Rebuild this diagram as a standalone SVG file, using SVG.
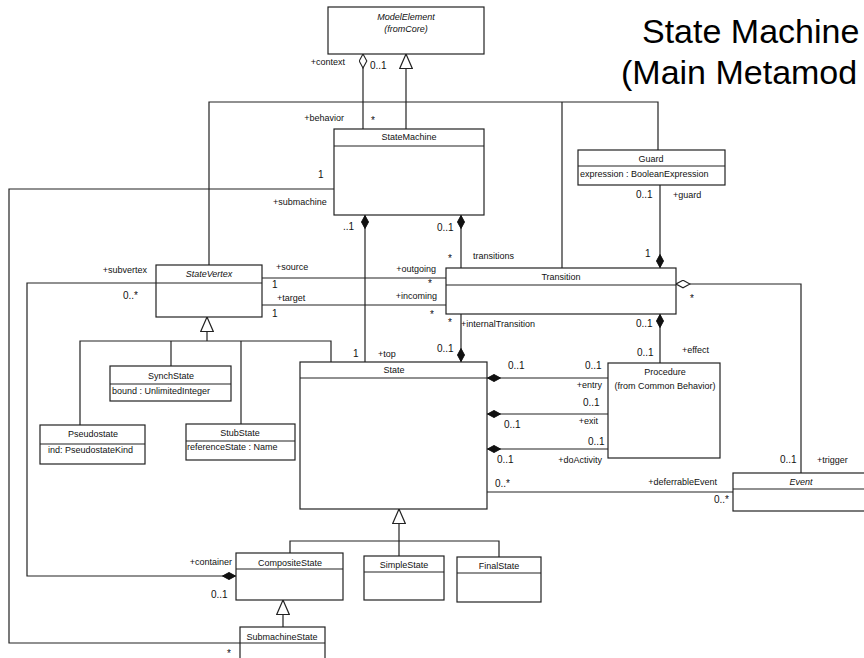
<svg xmlns="http://www.w3.org/2000/svg" width="864" height="658" viewBox="0 0 864 658">
  <style>
    .box { fill: #fff; stroke: #222; stroke-width: 1.2; }
    .sep { stroke: #222; stroke-width: 1.1; fill: none; }
    .ln { fill: none; stroke: #222; stroke-width: 1.2; }
    text { font-family: "Liberation Sans", Arial, sans-serif; fill: #111; }
    .nm { font-size: 9px; text-anchor: middle; }
    .it { font-style: italic; }
    .at { font-size: 9px; }
    .rl { font-size: 9px; }
    .mu { font-size: 10px; }
    .end { text-anchor: end; }
    .title { font-size: 34px; fill: #000; }
  </style>
  <defs>
    <marker id="diaFilled" markerUnits="userSpaceOnUse" viewBox="0 0 14 8" markerWidth="14" markerHeight="8" refX="0" refY="4" orient="auto">
      <path d="M0.5,4 L7,0.5 L13.5,4 L7,7.5 Z" fill="#111" stroke="#111" stroke-width="1"/>
    </marker>
    <marker id="diaHollow" markerUnits="userSpaceOnUse" viewBox="0 0 15 9" markerWidth="15" markerHeight="9" refX="0.5" refY="4.5" orient="auto">
      <path d="M0.5,4.5 L7.5,0.7 L14.5,4.5 L7.5,8.3 Z" fill="#fff" stroke="#222" stroke-width="1.1"/>
    </marker>
    <marker id="triHollow" markerUnits="userSpaceOnUse" viewBox="0 0 16 14" markerWidth="16" markerHeight="14" refX="15" refY="7" orient="auto">
      <path d="M0.5,0.7 L15,7 L0.5,13.3 Z" fill="#fff" stroke="#222" stroke-width="1.2"/>
    </marker>
  </defs>

  <rect width="864" height="658" fill="#fff"/>

  <!-- title -->
  <g id="title">
    <text class="title" x="642" y="43">State Machine</text>
    <text class="title" x="621" y="84">(Main Metamod</text>
  </g>

  <!-- associations, compositions and generalizations -->
  <g id="connectors">
    <!-- ModelElement generalization tree -->
    <path class="ln" d="M406,129 V54" marker-end="url(#triHollow)"/>
    <path class="ln" d="M209,265 V102 H658 V150"/>
    <path class="ln" d="M562,102 V268"/>
    <!-- context / behavior -->
    <path class="ln" d="M363,54 V129" marker-start="url(#diaHollow)"/>
    <text class="rl end" x="345" y="65">+context</text>
    <text class="mu" x="370" y="69">0..1</text>
    <text class="rl end" x="344" y="121">+behavior</text>
    <text class="mu" x="371" y="124">*</text>

    <!-- submachine -->
    <path class="ln" d="M334,189 H9 V643 H240"/>
    <text class="mu" x="318" y="178">1</text>
    <text class="rl" x="273" y="205">+submachine</text>
    <text class="mu" x="227" y="657">*</text>

    <!-- top -->
    <path class="ln" d="M365,215 V362" marker-start="url(#diaFilled)"/>
    <text class="mu" x="343" y="230">..1</text>
    <text class="mu" x="353" y="357">1</text>
    <text class="rl" x="378" y="357">+top</text>

    <!-- transitions -->
    <path class="ln" d="M461,215 V268" marker-start="url(#diaFilled)"/>
    <text class="mu" x="437" y="231">0..1</text>
    <text class="mu" x="448" y="262">*</text>
    <text class="rl" x="473" y="259">transitions</text>

    <!-- subvertex / container -->
    <path class="ln" d="M236,576 H27 V283 H156" marker-start="url(#diaFilled)"/>
    <text class="rl end" x="147" y="273">+subvertex</text>
    <text class="mu" x="123" y="299">0..*</text>
    <text class="rl end" x="232" y="565">+container</text>
    <text class="mu" x="211" y="598">0..1</text>

    <!-- source / outgoing -->
    <path class="ln" d="M262,278 H446"/>
    <text class="rl" x="276" y="270">+source</text>
    <text class="mu" x="272" y="288">1</text>
    <text class="rl end" x="436" y="272">+outgoing</text>
    <text class="mu" x="428" y="287">*</text>

    <!-- target / incoming -->
    <path class="ln" d="M262,305 H446"/>
    <text class="rl" x="277" y="301">+target</text>
    <text class="mu" x="272" y="317">1</text>
    <text class="rl end" x="437" y="299">+incoming</text>
    <text class="mu" x="430" y="318">*</text>

    <!-- internalTransition -->
    <path class="ln" d="M461,362 V314" marker-start="url(#diaFilled)"/>
    <text class="mu" x="448" y="326">*</text>
    <text class="rl" x="461" y="327">+internalTransition</text>
    <text class="mu" x="437" y="352">0..1</text>

    <!-- guard -->
    <path class="ln" d="M660,268 V185" marker-start="url(#diaFilled)"/>
    <text class="mu" x="636" y="198">0..1</text>
    <text class="rl" x="673" y="198">+guard</text>
    <text class="mu" x="645" y="257">1</text>

    <!-- effect -->
    <path class="ln" d="M660,314 V363" marker-start="url(#diaFilled)"/>
    <text class="mu" x="636" y="327">0..1</text>
    <text class="mu" x="637" y="356">0..1</text>
    <text class="rl" x="682" y="353">+effect</text>

    <!-- trigger -->
    <path class="ln" d="M676,284 H801 V473" marker-start="url(#diaHollow)"/>
    <text class="mu" x="690" y="302">*</text>
    <text class="mu" x="780" y="463">0..1</text>
    <text class="rl" x="817" y="463">+trigger</text>

    <!-- entry -->
    <path class="ln" d="M487,378 H608" marker-start="url(#diaFilled)"/>
    <text class="mu" x="508" y="369">0..1</text>
    <text class="mu" x="585" y="369">0..1</text>
    <text class="rl end" x="602" y="388">+entry</text>

    <!-- exit -->
    <path class="ln" d="M487,414 H608" marker-start="url(#diaFilled)"/>
    <text class="mu" x="583" y="406">0..1</text>
    <text class="rl end" x="598" y="424">+exit</text>
    <text class="mu" x="504" y="428">0..1</text>

    <!-- doActivity -->
    <path class="ln" d="M487,449 H608" marker-start="url(#diaFilled)"/>
    <text class="mu" x="588" y="445">0..1</text>
    <text class="mu" x="497" y="463">0..1</text>
    <text class="rl end" x="602" y="463">+doActivity</text>

    <!-- deferrableEvent -->
    <path class="ln" d="M487,492 H733"/>
    <text class="mu" x="495" y="487">0..*</text>
    <text class="rl end" x="717" y="485">+deferrableEvent</text>
    <text class="mu" x="714" y="503">0..*</text>

    <!-- StateVertex generalization tree -->
    <path class="ln" d="M207,341 V317" marker-end="url(#triHollow)"/>
    <path class="ln" d="M80,425 V341 H331 V362"/>
    <path class="ln" d="M171,341 V366"/>
    <path class="ln" d="M241,341 V424"/>

    <!-- State generalization tree -->
    <path class="ln" d="M399,541 V509" marker-end="url(#triHollow)"/>
    <path class="ln" d="M290,553 V541 H499 V557"/>
    <path class="ln" d="M399,541 V556"/>

    <!-- CompositeState generalization -->
    <path class="ln" d="M283,627 V600" marker-end="url(#triHollow)"/>
  </g>

  <!-- classes -->
  <g id="ModelElement">
    <rect class="box" x="328" y="7" width="156" height="47"/>
    <text class="nm it" x="406" y="20">ModelElement</text>
    <text class="nm it" x="406" y="32">(fromCore)</text>
  </g>

  <g id="StateMachine">
    <rect class="box" x="334" y="129" width="150" height="86"/>
    <line class="sep" x1="334" y1="146" x2="484" y2="146"/>
    <text class="nm" x="409" y="140">StateMachine</text>
  </g>

  <g id="Guard">
    <rect class="box" x="578" y="150" width="147" height="35"/>
    <line class="sep" x1="578" y1="166" x2="725" y2="166"/>
    <text class="nm" x="651" y="162">Guard</text>
    <text class="at" x="580" y="177">expression : BooleanExpression</text>
  </g>

  <g id="StateVertex">
    <rect class="box" x="156" y="265" width="106" height="52"/>
    <line class="sep" x1="156" y1="283" x2="262" y2="283"/>
    <text class="nm it" x="209" y="277">StateVertex</text>
  </g>

  <g id="Transition">
    <rect class="box" x="446" y="268" width="230" height="46"/>
    <line class="sep" x1="446" y1="285" x2="676" y2="285"/>
    <text class="nm" x="561" y="280">Transition</text>
  </g>

  <g id="SynchState">
    <rect class="box" x="110" y="366" width="121" height="35"/>
    <line class="sep" x1="110" y1="384" x2="231" y2="384"/>
    <text class="nm" x="171" y="379">SynchState</text>
    <text class="at" x="112" y="394">bound : UnlimitedInteger</text>
  </g>

  <g id="Pseudostate">
    <rect class="box" x="40" y="425" width="105" height="39"/>
    <line class="sep" x1="40" y1="444" x2="145" y2="444"/>
    <text class="nm" x="93" y="437">Pseudostate</text>
    <text class="at" x="48" y="453">ind: PseudostateKind</text>
  </g>

  <g id="StubState">
    <rect class="box" x="186" y="424" width="109" height="36"/>
    <line class="sep" x1="186" y1="441" x2="295" y2="441"/>
    <text class="nm" x="240" y="436">StubState</text>
    <text class="at" x="187" y="450">referenceState : Name</text>
  </g>

  <g id="State">
    <rect class="box" x="300" y="362" width="187" height="147"/>
    <line class="sep" x1="300" y1="378" x2="487" y2="378"/>
    <text class="nm" x="394" y="373">State</text>
  </g>

  <g id="Procedure">
    <rect class="box" x="608" y="363" width="112" height="95"/>
    <text class="nm" x="665" y="375">Procedure</text>
    <text class="nm" x="665" y="389">(from Common Behavior)</text>
  </g>

  <g id="Event">
    <rect class="box" x="733" y="473" width="137" height="38"/>
    <line class="sep" x1="733" y1="489" x2="870" y2="489"/>
    <text class="nm it" x="801" y="485">Event</text>
  </g>

  <g id="CompositeState">
    <rect class="box" x="236" y="553" width="107" height="47"/>
    <line class="sep" x1="236" y1="569" x2="343" y2="569"/>
    <text class="nm" x="290" y="566">CompositeState</text>
  </g>

  <g id="SimpleState">
    <rect class="box" x="364" y="556" width="80" height="44"/>
    <line class="sep" x1="364" y1="572" x2="444" y2="572"/>
    <text class="nm" x="404" y="568">SimpleState</text>
  </g>

  <g id="FinalState">
    <rect class="box" x="457" y="557" width="84" height="45"/>
    <line class="sep" x1="457" y1="573" x2="541" y2="573"/>
    <text class="nm" x="499" y="569">FinalState</text>
  </g>

  <g id="SubmachineState">
    <rect class="box" x="240" y="627" width="85" height="45"/>
    <line class="sep" x1="240" y1="643" x2="325" y2="643"/>
    <text class="nm" x="282" y="640">SubmachineState</text>
  </g>
</svg>
